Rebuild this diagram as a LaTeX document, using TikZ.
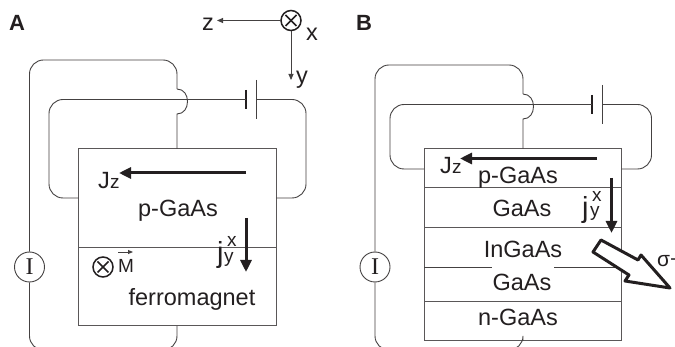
\documentclass[tikz,border=0pt]{standalone}
\usepackage{fontspec}
\setmainfont{Liberation Sans}
\newfontfamily\serifI{Liberation Serif}
\usetikzlibrary{arrows.meta}
\definecolor{ink}{HTML}{231F20}
\newcommand{\fs}[1]{\fontsize{#1}{#1}\selectfont}
\tikzset{
  wire/.style={draw=ink!85,line width=0.9pt,rounded corners=14pt},
  plain/.style={draw=ink!85,line width=0.9pt},
  layer/.style={draw=ink!75,line width=1pt,fill=none,inner sep=0pt,outer sep=0pt,anchor=north west},
  plate/.style={draw=ink,line width=2.6pt},
  bigarrow/.style={draw=ink,line width=3pt,-{Triangle[length=12pt,width=11pt]},shorten >=0pt},
  axisarrow/.style={draw=ink!85,line width=0.9pt,-{Triangle[length=6pt,width=5pt]}},
  lab/.style={font=\fs{23.5},text=ink,inner sep=0pt,anchor=base},
  labw/.style={font=\fs{23.5},text=ink,inner sep=0pt,anchor=base west},
  bigj/.style={font=\fs{29},text=ink,inner sep=0pt,anchor=base west},
  subl/.style={font=\fs{19},text=ink,inner sep=0pt,anchor=base west},
  panel/.style={font=\bfseries\fs{22},text=ink,inner sep=0pt,anchor=base west},
  meter/.style={circle,draw=ink!85,line width=0.9pt,minimum size=30pt,inner sep=0pt,font=\serifI\fs{24},text=ink},
  cross/.style={circle,draw=ink,line width=1.5pt,minimum size=20pt,inner sep=0pt,path picture={
    \draw[ink,line width=1.5pt] (path picture bounding box.center)+(-5.5,-5.5) -- +(5.5,5.5);
    \draw[ink,line width=1.5pt] (path picture bounding box.center)+(-5.5,5.5) -- +(5.5,-5.5);}},
}
\begin{document}
\begin{tikzpicture}[x=1pt,y=-1pt]
\useasboundingbox (0,0) rectangle (675,347);
\clip (0,0) rectangle (675,347);
\fill[white] (0,0) rectangle (675,347);
% Panel labels
\node[panel] (la) at (9,31) {A};
\node[panel] (lb) at (356,31) {B};
% Axes
\node[cross] (ax) at (291,20.5) {};
\node[labw] (az) at (202,31) {z};
\node[labw] (ax2) at (306,41) {x};
\node[labw] (ay) at (296,84) {y};
\coordinate (azend) at (217,20.5);
\coordinate (ayend) at (291,80);
\draw[axisarrow] (ax) -- (azend);
\draw[axisarrow] (ax) -- (ayend);
% ===== Panel A =====
\node[layer,minimum width=197.5pt,minimum height=99pt] (a1) at (78.5,149) {};
\node[layer,minimum width=197.5pt,minimum height=78pt] (a2) at (78.5,248) {};
\node[meter] (ia) at (29.5,267) {I};
\draw[plate] (246,90) -- (246,109);
\draw[plain] (256,80) -- (256,119);
% outer loop
\draw[wire] (ia.north) -- (29.5,60) -- (177,60) -- (177,89);
\draw[plain] (177,89) .. controls (191,89) and (191,114) .. (177,114) -- (177,149);
\draw[wire] (ia.south) -- (29.5,350) -- (177,350) -- (177,326);
% inner loop
\draw[wire] (246,99.5) -- (49,99.5) -- (49,198) -- (78.5,198);
\draw[wire] (256,99.5) -- (306,99.5) -- (306,198) -- (276,198);
% labels
\node[labw] (ja) at (98,189) {J};
\node[subl] (jza) at (110,189) {z};
\draw[bigarrow] (246,173) -- (119,173);
\node[lab] (pa) at (178,217) {p-GaAs};
\draw[bigarrow] (246,218) -- (246,272);
\node[bigj] (jya) at (217,263) {j};
\node[subl] (jyya) at (224,263) {y};
\node[subl] (jyxa) at (227,247) {x};
\node[cross] (ma) at (103,267) {};
\node[subl] (ml) at (118,273) {M};
\coordinate (mv1) at (118,252);
\coordinate (mv2) at (133,252);
\draw[draw=ink!85,line width=0.9pt,-{Triangle[length=5pt,width=4pt]}] (mv1) -- (mv2);
\node[lab] (fa) at (192,306) {ferromagnet};
% ===== Panel B =====
\node[layer,minimum width=197.5pt,minimum height=39pt] (b1) at (424,149) {};
\node[layer,minimum width=197.5pt,minimum height=40pt] (b2) at (424,188) {};
\node[layer,minimum width=197.5pt,minimum height=74pt] (b3) at (424,228) {};
\node[layer,minimum width=197.5pt,minimum height=39pt] (b4) at (424,302) {};
\coordinate (gl) at (424,267);
\coordinate (gr) at (621.5,267);
\draw[plain] (gl) -- (492,267);
\draw[plain] (554,267) -- (gr);
\node[meter] (ib) at (375,267) {I};
\draw[plate] (592,95) -- (592,114);
\draw[plain] (602,85) -- (602,124);
\draw[wire] (ib.north) -- (375,65) -- (523,65) -- (523,94);
\draw[plain] (523,94) .. controls (537,94) and (537,119) .. (523,119) -- (523,149);
\draw[wire] (ib.south) -- (375,350) -- (523,350) -- (523,341);
\draw[wire] (592,104.5) -- (390,104.5) -- (390,169) -- (424,169);
\draw[wire] (602,104.5) -- (651.5,104.5) -- (651.5,169) -- (621.5,169);
\node[labw] (jb) at (440,174) {J};
\node[subl] (jzb) at (452,174) {z};
\draw[bigarrow] (597,158.5) -- (460,158.5);
\node[lab] (pb) at (518,184) {p-GaAs};
\node[lab] (g1) at (522,217) {GaAs};
\node[lab] (ig) at (523,258) {InGaAs};
\node[lab] (g2) at (522,291) {GaAs};
\node[lab] (ng) at (518,326) {n-GaAs};
\draw[bigarrow] (611.5,178) -- (611.5,233);
\node[bigj] (jyb) at (582,218) {j};
\node[subl] (jyyb) at (590,217) {y};
\node[subl] (jyxb) at (592,202) {x};
\draw[draw=ink,fill=white,line width=3pt,line join=round]
  (601,240) -- (638,260) -- (641,255) -- (670,288) -- (625,281) -- (629,275) -- (593,252) -- cycle;
\node[subl,font=\fs{21}] (sg) at (657,267) {σ+};
\end{tikzpicture}
\end{document}
